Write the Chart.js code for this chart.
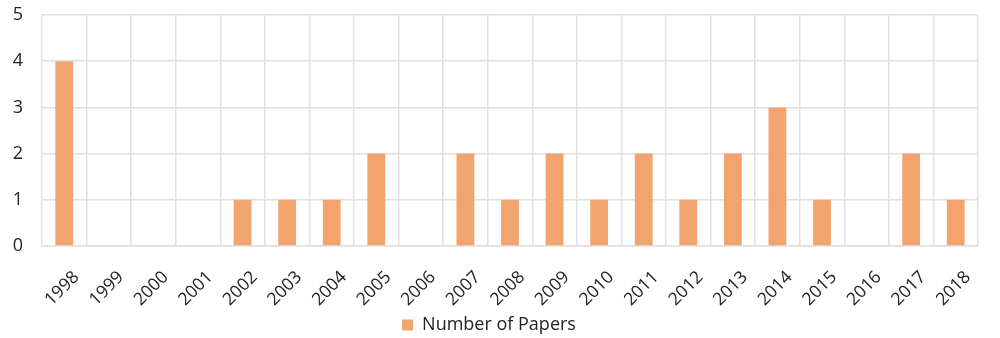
<!DOCTYPE html>
<html>
<head>
<meta charset="utf-8">
<script src="https://cdn.jsdelivr.net/npm/chart.js@4"></script>
<style>
    html, body { margin: 0; padding: 0; background: #ffffff; }
    #wrap { width: 1000px; height: 338px; }
</style>
</head>
<body>
<div id="wrap"><canvas id="barChart"></canvas></div>
<script>
const years = ['1998', '1999', '2000', '2001', '2002', '2003', '2004', '2005', '2006', '2007',
    '2008', '2009', '2010', '2011', '2012', '2013', '2014', '2015', '2016', '2017', '2018'];
const papers = [4, 0, 0, 0, 1, 1, 1, 2, 0, 2, 1, 2, 1, 2, 1, 2, 3, 1, 0, 2, 1];
const yTicks = [0, 1, 2, 3, 4, 5];

const ctx = document.getElementById('barChart');

new Chart(ctx, {
    type: 'bar',
    data: {
        labels: years,
        datasets: [
            {
                label: 'Number of Papers',
                data: papers,
                backgroundColor: '#F2A46E',
                borderWidth: 0,
            },
        ]
    },
    options: {
        responsive: true,
        maintainAspectRatio: false,
        animation: false,
        categoryPercentage: 0.4,
        barPercentage: 1,
        layout: {
            padding: { top: 15, right: 22, left: 0, bottom: -6 }
        },
        plugins: {
            legend: {
                position: 'bottom',
                labels: {
                    boxWidth: 11,
                    boxHeight: 11,
                    padding: 0,
                    color: '#222222',
                    font: { family: 'Open Sans', size: 18 }
                }
            },
            tooltip: { enabled: false }
        },
        scales: {
            x: {
                afterFit: function (scale) {
                    scale.paddingLeft = 0;
                    scale.paddingRight = 0;
                    scale.height = 70;  // 축 라벨 영역 높이 고정
                },
                grid: {
                    color: '#E0E0E0',
                    lineWidth: 1.5,
                    drawTicks: false,
                },
                border: { color: '#E0E0E0', width: 1.5 },
                ticks: {
                    minRotation: 45,
                    maxRotation: 45,
                    padding: 21,
                    labelOffset: 12,
                    color: '#222222',
                    font: { family: 'Open Sans', size: 17.5 }
                }
            },
            y: {
                min: 0,
                max: 5,
                afterBuildTicks: function (axis) {
                    axis.ticks = yTicks.map(v => ({ value: v }));
                },
                afterFit: function (scale) {
                    scale.paddingTop = 0;
                    scale.paddingBottom = 0;
                    scale.width = 42;
                },
                grid: {
                    color: '#E0E0E0',
                    lineWidth: 1.5,
                    drawTicks: false,
                },
                border: { display: false },
                ticks: {
                    padding: 19,
                    color: '#222222',
                    font: { family: 'Open Sans', size: 18 }
                }
            }
        }
    }
});
</script>
</body>
</html>
